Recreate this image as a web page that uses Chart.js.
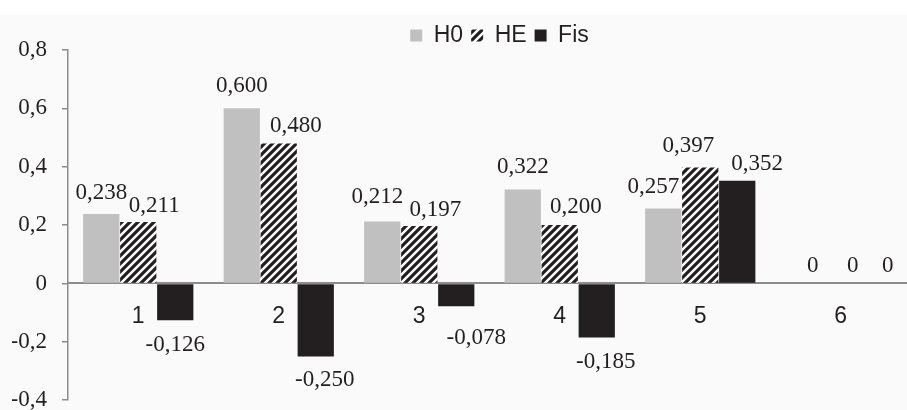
<!DOCTYPE html>
<html>
<head>
<meta charset="utf-8">
<script src="https://cdn.jsdelivr.net/npm/chart.js@4.4.1/dist/chart.umd.min.js"></script>
<style>
  html, body { margin: 0; padding: 0; background: #ffffff; overflow: hidden; }
  #wrap { position: relative; width: 911px; height: 429px; }
</style>
</head>
<body>
<div id="wrap"><canvas id="chart"></canvas></div>
<script>
// Loci and their diversity statistics
const categories = ['1', '2', '3', '4', '5', '6'];
const h0Values  = [0.238, 0.600, 0.212, 0.322, 0.257, 0];
const heValues  = [0.211, 0.480, 0.197, 0.200, 0.397, 0];
const fisValues = [-0.126, -0.250, -0.078, -0.185, 0.352, 0];
const yTicks = [-0.4, -0.2, 0, 0.2, 0.4, 0.6, 0.8];

// Small nudges that keep the value labels clear of neighbouring bars
const labelNudge = [
  { dx: [0, 0, -5, 0, -10, 9],     dy: [-4, -5, -8, -5, -4, 0] },
  { dx: [16, 17, 16, 16, -12, 12], dy: [1, 0, 1, -1, -5, 0] },
  { dx: [0, 9, 20, 9, 20, 10],     dy: [0, -1, 7, 0, 0, 0] }
];

const INK = '#231f20';
const AXIS = '#8c8c8c';
const SERIF = 'Liberation Serif';
const SANS = 'Liberation Sans';

function commaNumber(v, digits) {
  if (Math.abs(v) < 1e-9) return '0';
  return v.toFixed(digits).replace('.', ',');
}

function makeHatch() {
  const s = 8;
  const c = document.createElement('canvas');
  c.width = s; c.height = s;
  const g = c.getContext('2d');
  g.fillStyle = '#ffffff';
  g.fillRect(0, 0, s, s);
  g.strokeStyle = INK;
  g.lineWidth = 3.2;
  g.beginPath();
  g.moveTo(-1, s + 1); g.lineTo(s + 1, -1);
  g.moveTo(-2, 2); g.lineTo(2, -2);
  g.moveTo(s - 2, s + 2); g.lineTo(s + 2, s - 2);
  g.stroke();
  return g.createPattern(c, 'repeat');
}

const pageTone = {
  id: 'pageTone',
  beforeDraw(chart) {
    const ctx = chart.ctx;
    ctx.save();
    ctx.fillStyle = '#ffffff';
    ctx.fillRect(0, 0, chart.width, chart.height);
    ctx.fillStyle = '#fafafa';
    ctx.fillRect(0, 15, chart.width, chart.height - 15);
    ctx.restore();
  }
};

// Legend band: fixed height above the plot, nudged a little to the right
const legendBand = {
  id: 'legendBand',
  beforeInit(chart) {
    const legend = chart.legend;
    const fit = legend.fit;
    legend.fit = function () { fit.call(this); this.height = 34; };
  },
  afterLayout(chart) {
    chart.legend.left += 20;
  }
};

const valueLabels = {
  id: 'valueLabels',
  afterDatasetsDraw(chart) {
    const ctx = chart.ctx;
    ctx.save();
    ctx.font = '23px "' + SERIF + '"';
    ctx.fillStyle = INK;
    ctx.textAlign = 'center';
    ctx.textBaseline = 'alphabetic';
    chart.data.datasets.forEach((ds, di) => {
      const meta = chart.getDatasetMeta(di);
      const nudge = labelNudge[di];
      meta.data.forEach((bar, i) => {
        const v = ds.data[i];
        const y = v < 0 ? bar.y + 31 + nudge.dy[i] : bar.y - 11 + nudge.dy[i];
        ctx.fillText(commaNumber(v, 3), bar.x + nudge.dx[i], y);
      });
    });
    ctx.restore();
  }
};

const hatch = makeHatch();

new Chart(document.getElementById('chart'), {
  type: 'bar',
  data: {
    labels: categories,
    datasets: [
      { label: 'H0',  data: h0Values,  backgroundColor: '#c0c0c1', borderWidth: 0 },
      { label: 'HE',  data: heValues,  backgroundColor: hatch,     borderWidth: 0 },
      { label: 'Fis', data: fisValues, backgroundColor: INK,       borderWidth: 0 }
    ]
  },
  options: {
    responsive: true,
    maintainAspectRatio: false,
    animation: false,
    events: [],
    devicePixelRatio: 1,
    categoryPercentage: 0.79,
    barPercentage: 0.98,
    layout: { padding: { left: 12, top: 16, right: 0, bottom: 0 } },
    plugins: {
      tooltip: { enabled: false },
      legend: {
        position: 'top',
        fullSize: false,
        labels: {
          boxWidth: 12,
          boxHeight: 12,
          padding: 8,
          color: INK,
          font: { family: SANS, size: 23 }
        }
      }
    },
    scales: {
      x: {
        position: { y: 0 },
        offset: true,
        z: 1,
        grid: { display: true, drawOnChartArea: false, drawTicks: false },
        border: { color: AXIS, width: 2 },
        ticks: {
          padding: 19,
          color: INK,
          font: { family: SANS, size: 23 }
        }
      },
      y: {
        min: -0.4,
        max: 0.8,
        afterBuildTicks(axis) { axis.ticks = yTicks.map(v => ({ value: v })); },
        afterFit(axis) { axis.width = 56; },
        grid: { drawOnChartArea: false, drawTicks: true, tickLength: 6, color: AXIS, lineWidth: 1.5 },
        border: { color: AXIS, width: 1.5 },
        ticks: {
          padding: 15,
          color: INK,
          font: { family: SERIF, size: 23 },
          callback: v => commaNumber(v, 1)
        }
      }
    }
  },
  plugins: [pageTone, legendBand, valueLabels]
});
</script>
</body>
</html>
